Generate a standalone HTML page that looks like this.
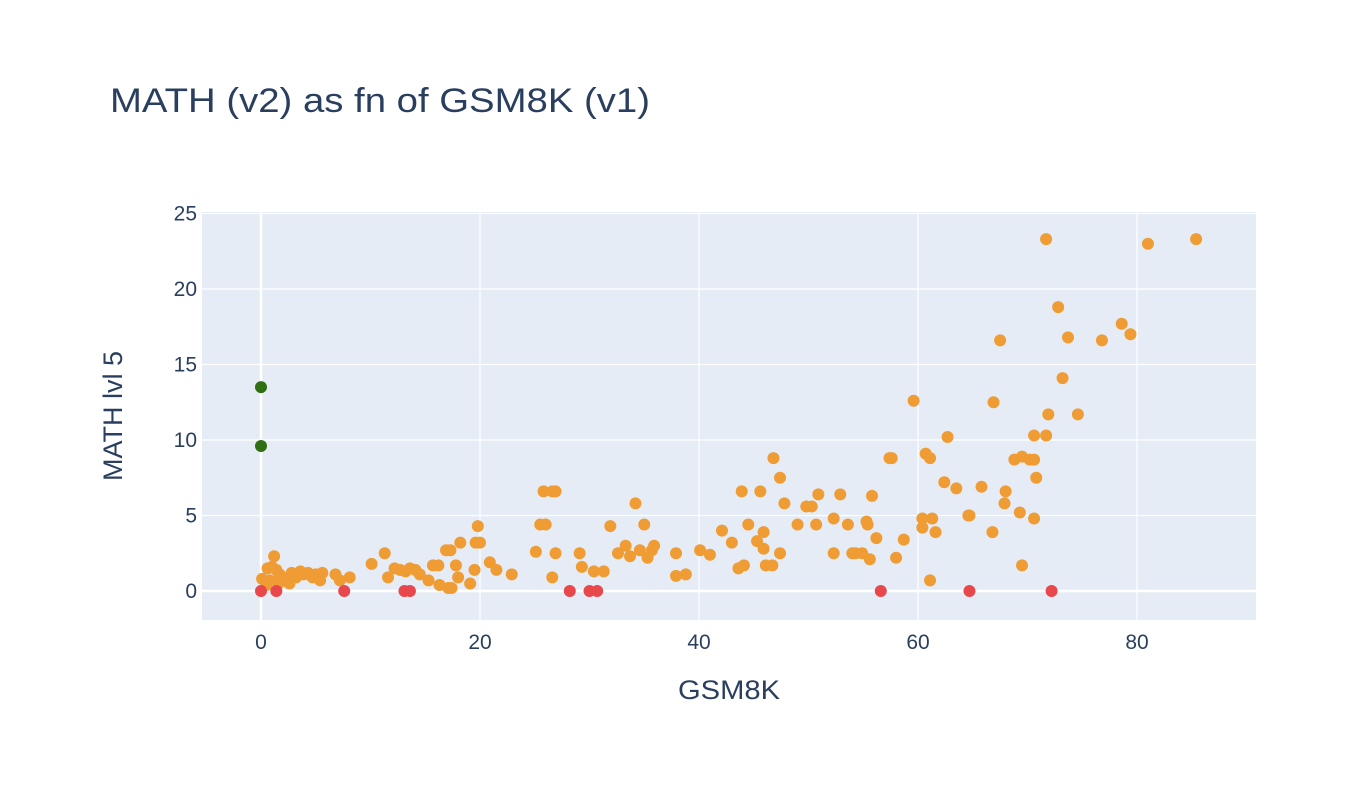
<!DOCTYPE html>
<html><head><meta charset="utf-8"><style>
body{margin:0;background:#fff;}
svg{display:block;font-family:"Liberation Sans",sans-serif;}
</style></head><body>
<svg id="chart" width="1366" height="794">
<text x="110" y="112" font-size="34" fill="#2a3f5f" textLength="540" lengthAdjust="spacingAndGlyphs">MATH (v2) as fn of GSM8K (v1)</text>
<rect x="202" y="212" width="1054" height="408" fill="#e5ecf6"/>
<g id="grid"></g>
<g id="marks"></g>
<text x="678" y="699" font-size="27" fill="#2a3f5f" textLength="102" lengthAdjust="spacingAndGlyphs">GSM8K</text>
<text transform="translate(122,416) rotate(-90)" font-size="27" fill="#2a3f5f" text-anchor="middle">MATH lvl 5</text>
</svg>
<script>
const xTicks=[0,20,40,60,80];
const yTicks=[0,5,10,15,20,25];
const orangeX=[0.1,0.6,1.0,1.2,1.4,1.7,2.1,2.5,2.8,3.2,3.6,3.9,4.3,4.7,5.0,5.4,5.6,0.5,0.8,1.6,2.6,6.8,7.2,8.1,10.1,11.3,11.6,12.2,12.7,13.2,13.6,14.1,14.5,15.3,15.7,16.2,16.3,16.9,17.3,17.1,17.4,17.8,18.0,18.2,19.1,19.6,19.8,20.0,19.5,20.9,21.5,22.9,25.1,25.5,25.8,26.0,26.6,26.9,26.9,26.6,29.1,29.3,30.4,31.3,31.9,32.6,33.3,33.7,34.2,34.6,35.0,35.3,35.7,35.9,37.9,37.9,38.8,40.1,41.0,42.1,43.0,43.6,43.9,44.1,44.5,45.3,45.6,45.9,45.9,46.1,46.7,46.8,47.4,47.4,47.8,49.0,49.8,50.3,50.7,50.9,52.3,52.3,52.9,53.6,54.0,54.3,54.9,55.3,55.4,55.6,55.8,56.2,57.4,57.6,58.0,58.7,59.6,60.4,60.4,60.7,61.1,61.3,61.1,61.6,62.4,62.7,63.5,64.6,64.7,65.8,66.8,66.9,67.5,67.9,68.0,68.8,69.3,69.5,69.5,70.2,70.6,70.6,70.6,70.8,71.7,71.9,71.7,72.8,73.2,73.7,74.6,76.8,78.6,79.4,81.0,85.4];
const orangeY=[0.8,1.5,1.6,2.3,1.4,1.1,0.7,0.9,1.2,0.9,1.3,1.1,1.2,0.9,1.1,0.7,1.2,0.4,0.7,0.5,0.5,1.1,0.7,0.9,1.8,2.5,0.9,1.5,1.4,1.3,1.5,1.4,1.1,0.7,1.7,1.7,0.4,2.7,2.7,0.2,0.2,1.7,0.9,3.2,0.5,3.2,4.3,3.2,1.4,1.9,1.4,1.1,2.6,4.4,6.6,4.4,6.6,6.6,2.5,0.9,2.5,1.6,1.3,1.3,4.3,2.5,3.0,2.3,5.8,2.7,4.4,2.2,2.7,3.0,2.5,1.0,1.1,2.7,2.4,4.0,3.2,1.5,6.6,1.7,4.4,3.3,6.6,3.9,2.8,1.7,1.7,8.8,7.5,2.5,5.8,4.4,5.6,5.6,4.4,6.4,4.8,2.5,6.4,4.4,2.5,2.5,2.5,4.6,4.4,2.1,6.3,3.5,8.8,8.8,2.2,3.4,12.6,4.8,4.2,9.1,8.8,4.8,0.7,3.9,7.2,10.2,6.8,5.0,5.0,6.9,3.9,12.5,16.6,5.8,6.6,8.7,5.2,1.7,8.9,8.7,4.8,10.3,8.7,7.5,23.3,11.7,10.3,18.8,14.1,16.8,11.7,16.6,17.7,17.0,23.0,23.3];
const greenX=[0,0];
const greenY=[13.5,9.6];
const redX=[0,1.4,7.6,13.1,13.6,28.2,30.0,30.7,56.6,64.7,72.2];
const redY=[0,0,0,0,0,0,0,0,0,0,0];

const NS='http://www.w3.org/2000/svg';
function sx(v){return 261+(v)*10.95;}
function sy(v){return 591-(v)*15.1;}
const grid=document.getElementById('grid');
const marks=document.getElementById('marks');
function mk(tag,attrs,parent){const e=document.createElementNS(NS,tag);for(const k in attrs)e.setAttribute(k,attrs[k]);parent.appendChild(e);return e;}
xTicks.forEach(t=>{
  const l=mk('line',{x1:sx(t),x2:sx(t),y1:212,y2:620,stroke:'#fff','stroke-width':t===0?2.5:1.2},grid);
  
  
  const tx=mk('text',{x:sx(t),y:649,'font-size':21,fill:'#2a3f5f','text-anchor':'middle'},grid);
  tx.textContent=t;
  
  
});
yTicks.forEach(t=>{
  const l=mk('line',{x1:202,x2:1256,y1:sy(t),y2:sy(t),stroke:'#fff','stroke-width':t===0?2.5:1.2},grid);
  
  
  const tx=mk('text',{x:197,y:sy(t)+7,'font-size':21,fill:'#2a3f5f','text-anchor':'end'},grid);
  tx.textContent=t;
  
  
});
function series(xs,ys,color,name){
  xs.forEach((x,i)=>{
    const c=mk('circle',{cx:sx(x),cy:sy(ys[i]),r:6,fill:color},marks);
    
    
  });
}
series(orangeX,orangeY,'#f09c34','orange-point');
series(greenX,greenY,'#2f6e12','green-point');
series(redX,redY,'#e8474b','red-point');
</script>
</body></html>
